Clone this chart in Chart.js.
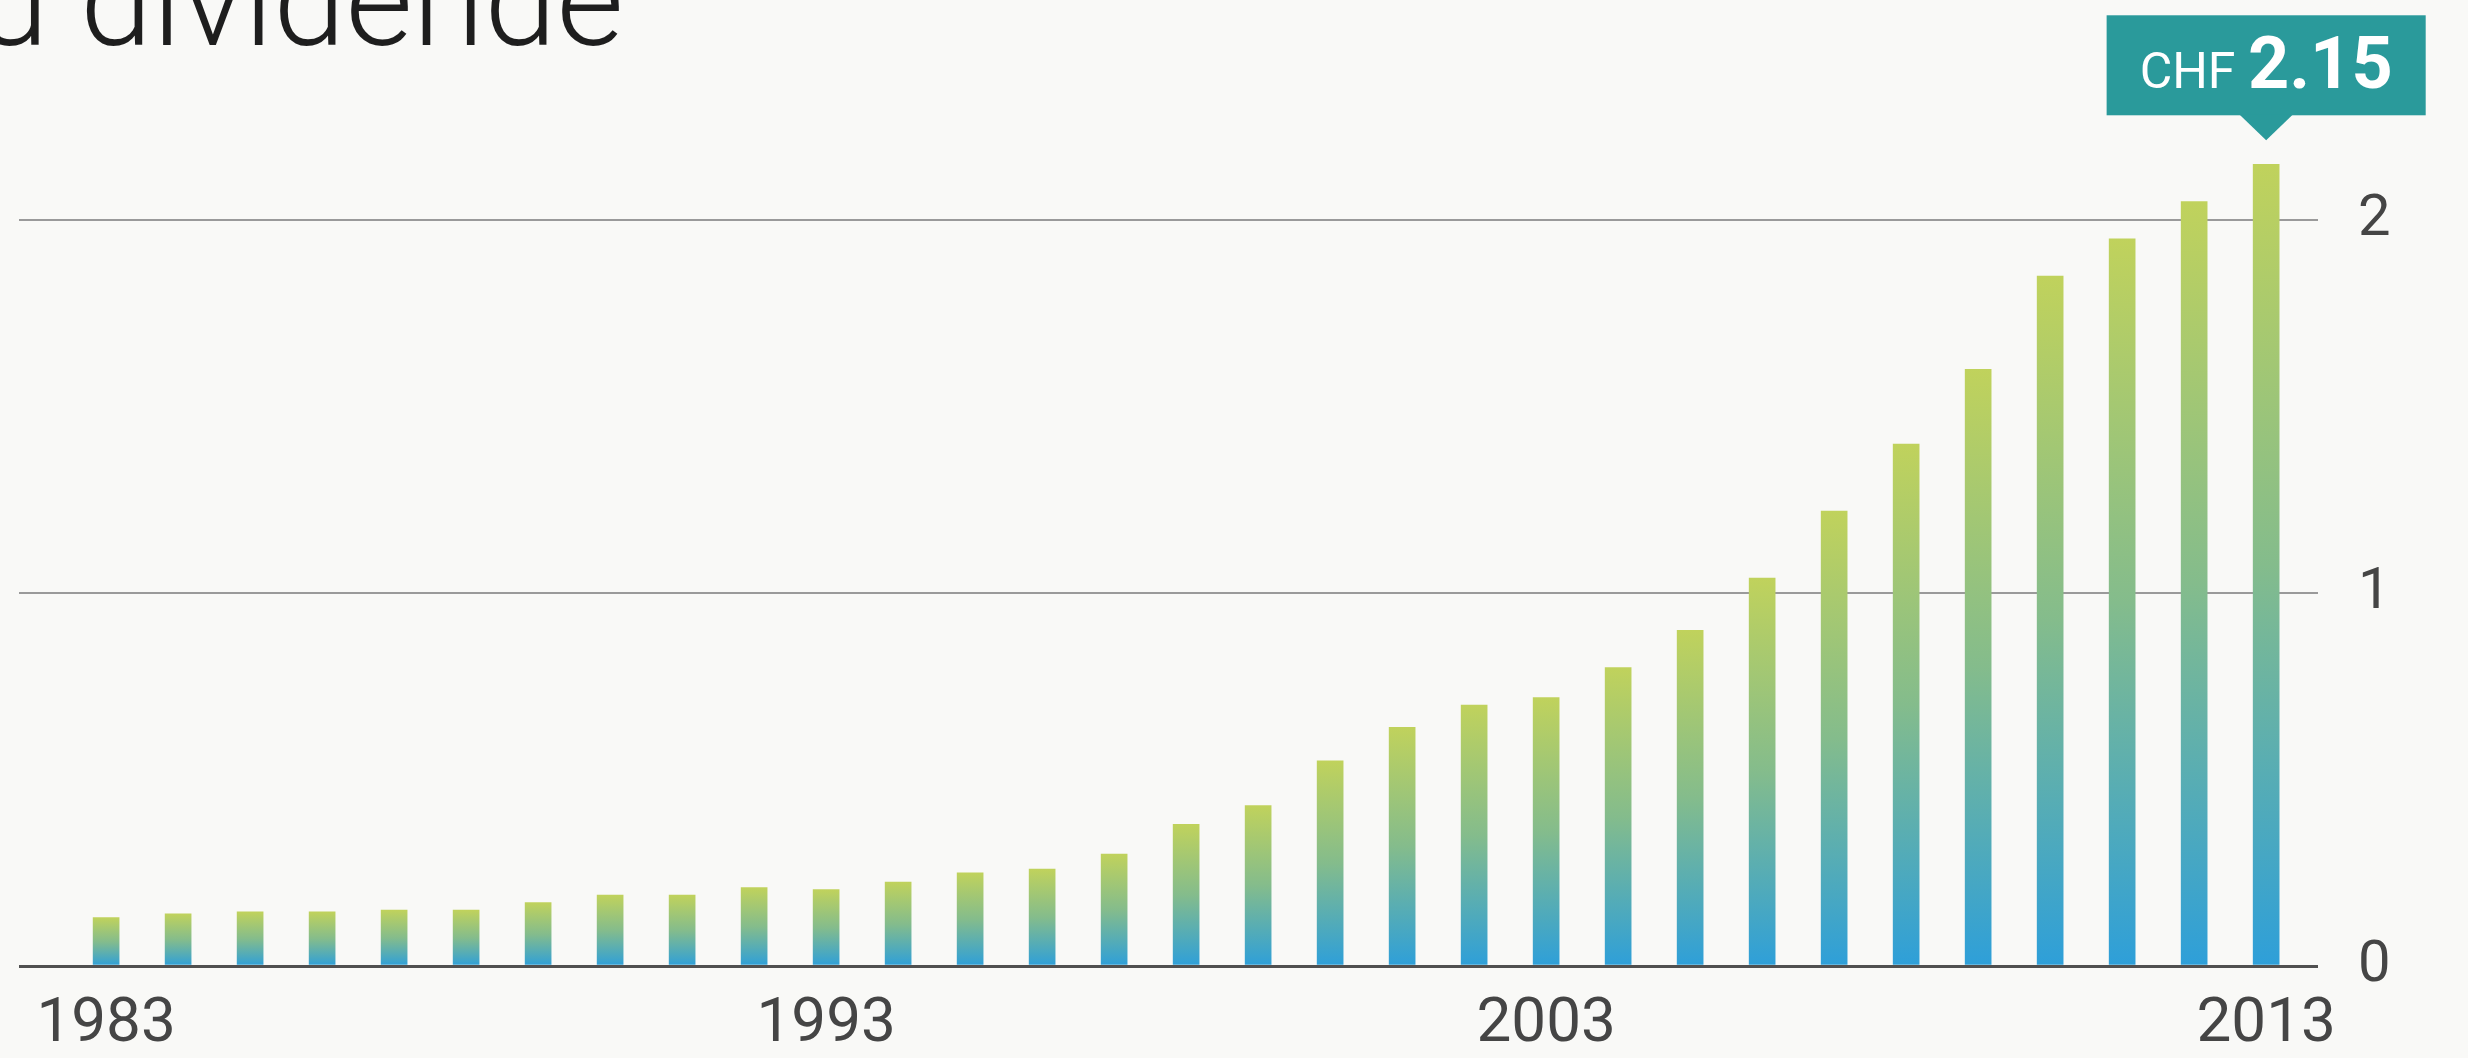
<!DOCTYPE html>
<html>
<head>
<meta charset="utf-8">
<script src="https://cdn.jsdelivr.net/npm/chart.js@4"></script>
<style>
  html, body { margin: 0; padding: 0; background: #f9f9f7; overflow: hidden; }
  #wrap { position: relative; width: 2468px; height: 1058px; }
  #title {
    position: absolute; left: -23px; top: -64px;
    font-family: Roboto, "Open Sans", "Liberation Sans", sans-serif;
    font-weight: 300; font-size: 130px; line-height: 130px;
    color: #1e1e1e; white-space: nowrap;
  }
  canvas { position: absolute; left: 0; top: 0; }
</style>
</head>
<body>
<div id="wrap">
  <canvas id="chart" width="2468" height="1058"></canvas>
  <div id="title">u dividende</div>
</div>
<script>
// dividend per share, CHF
const years = [1983, 1984, 1985, 1986, 1987, 1988, 1989, 1990, 1991, 1992,
               1993, 1994, 1995, 1996, 1997, 1998, 1999, 2000, 2001, 2002,
               2003, 2004, 2005, 2006, 2007, 2008, 2009, 2010, 2011, 2012, 2013];
const dividends = [0.13, 0.14, 0.145, 0.145, 0.15, 0.15, 0.17, 0.19, 0.19, 0.21,
                   0.205, 0.225, 0.25, 0.26, 0.30, 0.38, 0.43, 0.55, 0.64, 0.70,
                   0.72, 0.80, 0.90, 1.04, 1.22, 1.40, 1.60, 1.85, 1.95, 2.05, 2.15];
const yearTicks = [1983, 1993, 2003, 2013];
const valueTicks = [0, 1, 2];
const currency = 'CHF';

const fontFamily = 'Roboto, "Liberation Sans", sans-serif';

function barGradient(context) {
    const chart = context.chart;
    if (!chart.chartArea || !context.raw) return '#6ab3b0';
    const yScale = chart.scales.y;
    const top = yScale.getPixelForValue(context.raw.y);
    const bottom = yScale.getPixelForValue(0);
    const g = chart.ctx.createLinearGradient(0, top, 0, bottom);
    g.addColorStop(0, '#c0d25c');
    g.addColorStop(0.5, '#84bc8c');
    g.addColorStop(1, '#2e9fd9');
    return g;
}

// teal callout over the last bar
const calloutPlugin = {
    id: 'callout',
    afterDatasetsDraw(chart) {
        const meta = chart.getDatasetMeta(0);
        const last = meta.data.length - 1;
        const bar = meta.data[last];
        const ctx = chart.ctx;
        const small = '50px ' + fontFamily;
        const big = 'bold 72px ' + fontFamily;
        const label = currency + ' ';
        const value = dividends[last].toFixed(2);

        ctx.save();
        ctx.font = small;
        const w1 = ctx.measureText(label).width;
        ctx.font = big;
        const w2 = ctx.measureText(value).width;
        const textW = w1 + w2;
        const boxW = textW + 66;
        const boxH = 100;
        const boxBottom = bar.y - 49;
        const boxTop = boxBottom - boxH;
        const left = bar.x - boxW / 2;

        ctx.fillStyle = '#2a9a9b';
        ctx.fillRect(left, boxTop, boxW, boxH);
        ctx.beginPath();
        ctx.moveTo(bar.x - 27, boxBottom - 1);
        ctx.lineTo(bar.x + 27, boxBottom - 1);
        ctx.lineTo(bar.x, boxBottom + 25);
        ctx.closePath();
        ctx.fill();

        ctx.fillStyle = '#ffffff';
        ctx.textBaseline = 'alphabetic';
        ctx.textAlign = 'left';
        const baseY = boxTop + 73;
        ctx.font = small;
        ctx.fillText(label, bar.x - textW / 2, baseY);
        ctx.font = big;
        ctx.fillText(value, bar.x - textW / 2 + w1, baseY);
        ctx.restore();
    }
};

new Chart(document.getElementById('chart'), {
    type: 'bar',
    data: {
        datasets: [{
            data: years.map((yr, i) => ({ x: yr, y: dividends[i] })),
            backgroundColor: barGradient,
            borderWidth: 0,
            barThickness: 26
        }]
    },
    options: {
        responsive: false,
        animation: false,
        devicePixelRatio: 1,
        layout: { padding: { left: 19, top: 32, right: 0, bottom: 0 } },
        plugins: {
            legend: { display: false },
            tooltip: { enabled: false }
        },
        scales: {
            x: {
                type: 'linear',
                offset: false,
                min: 1981.79,
                max: 2013.72,
                grid: { display: false },
                border: { display: false },
                afterBuildTicks: (scale) => { scale.ticks = yearTicks.map(v => ({ value: v })); },
                afterFit: (scale) => { scale.height = 92; },
                ticks: {
                    autoSkip: false,
                    maxRotation: 0,
                    padding: 14,
                    color: '#454545',
                    font: { family: fontFamily, size: 62 },
                    callback: (v) => String(v)
                }
            },
            y: {
                position: 'right',
                min: 0,
                max: 2.39,
                afterBuildTicks: (scale) => { scale.ticks = valueTicks.map(v => ({ value: v })); },
                afterFit: (scale) => { scale.width = 150; },
                border: { display: false },
                grid: {
                    drawTicks: false,
                    color: (c) => c.tick && c.tick.value === 0 ? '#505050' : '#9a9a9a',
                    lineWidth: (c) => c.tick && c.tick.value === 0 ? 3 : 2
                },
                ticks: {
                    padding: 40,
                    color: '#454545',
                    font: { family: fontFamily, size: 58 },
                    callback: (v) => String(v)
                }
            }
        }
    },
    plugins: [calloutPlugin]
});
</script>
</body>
</html>
